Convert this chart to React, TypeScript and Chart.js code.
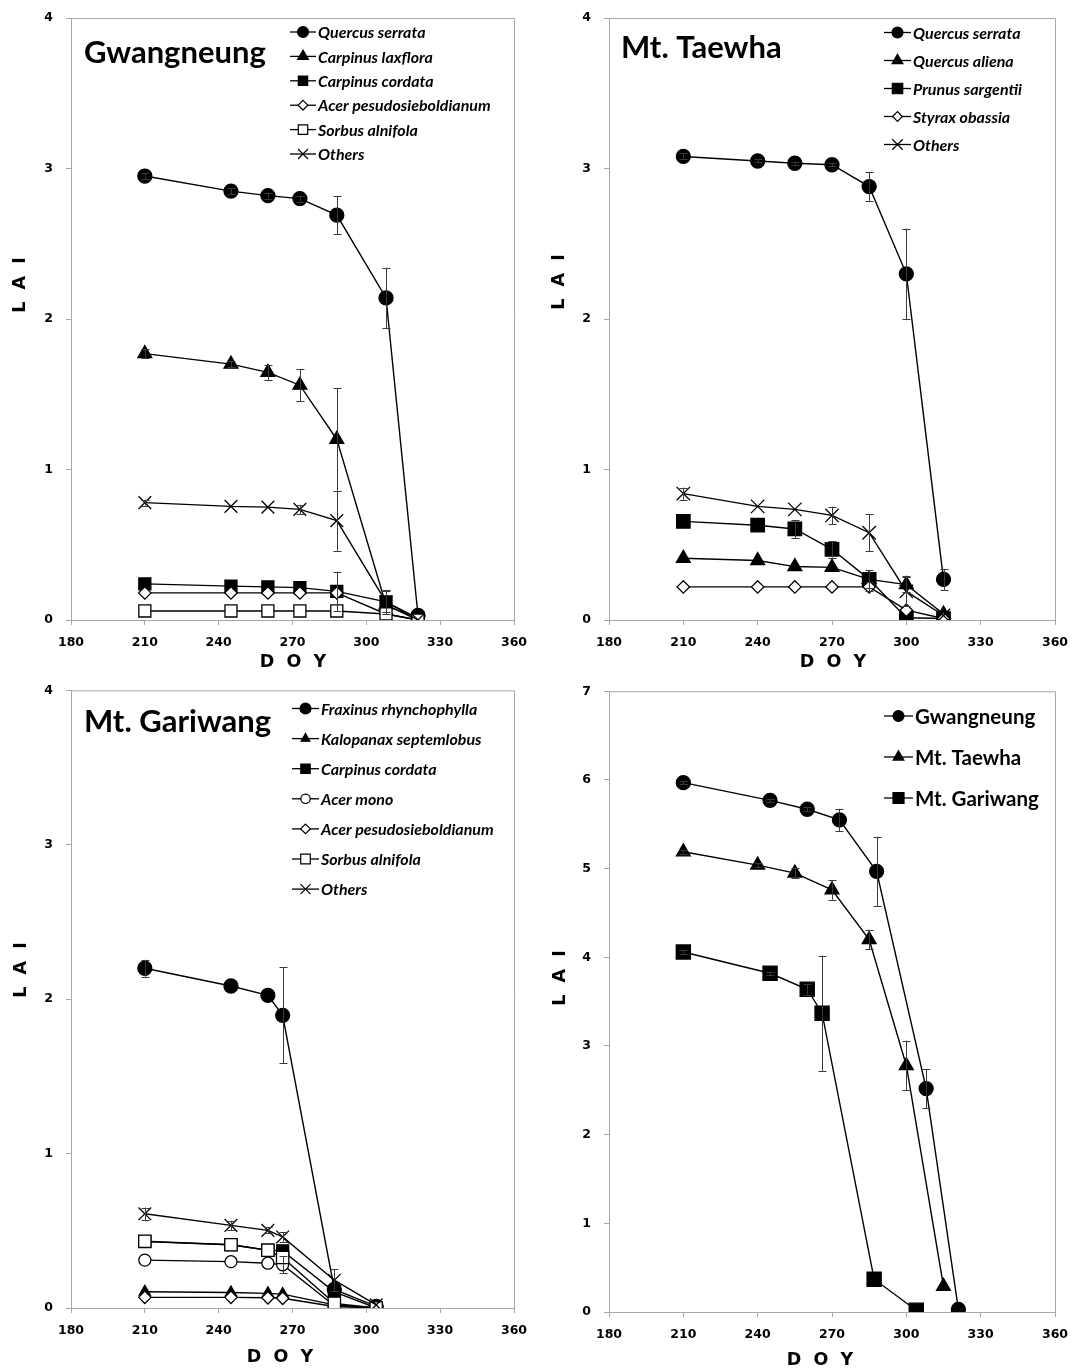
import React, { useEffect, useRef } from 'react';
import { Chart, registerables } from 'chart.js';

Chart.register(...registerables);

// ---------- data ----------
const X_TICKS = [180, 210, 240, 270, 300, 330, 360];

const DOY_GWANGNEUNG = [210, 245, 260, 273, 288, 308, 321];
const DOY_TAEWHA = [210, 240, 255, 270, 285, 300, 315];
const DOY_GARIWANG = [210, 245, 260, 266, 287, 304];

// Gwangneung species LAI and error
const G_QUERCUS_SERRATA = [2.95, 2.85, 2.82, 2.8, 2.69, 2.14, 0.03];
const G_QUERCUS_SERRATA_ERR = [0.02, 0.02, 0.02, 0.02, 0.125, 0.2, 0];
const G_CARPINUS_LAXFLORA = [1.77, 1.7, 1.645, 1.56, 1.2, 0.1, 0.0];
const G_CARPINUS_LAXFLORA_ERR = [0.03, 0.02, 0.05, 0.107, 0.34, 0, 0];
const G_CARPINUS_CORDATA = [0.24, 0.225, 0.22, 0.215, 0.19, 0.12, 0.01];
const G_CARPINUS_CORDATA_ERR = [0, 0, 0, 0, 0.13, 0.07, 0];
const G_ACER_PESUDO = [0.18, 0.18, 0.18, 0.18, 0.18, 0.04, 0.0];
const G_ACER_PESUDO_ERR = [0, 0, 0, 0, 0, 0, 0];
const G_SORBUS = [0.06, 0.06, 0.06, 0.06, 0.06, 0.04, 0.0];
const G_SORBUS_ERR = [0, 0, 0, 0, 0, 0, 0];
const G_OTHERS = [0.78, 0.755, 0.75, 0.735, 0.66, 0.12, 0.0];
const G_OTHERS_ERR = [0.02, 0, 0, 0.03, 0.2, 0.08, 0];

// Mt. Taewha species
const T_QUERCUS_SERRATA = [3.08, 3.05, 3.035, 3.025, 2.88, 2.3, 0.27];
const T_QUERCUS_SERRATA_ERR = [0.02, 0.01, 0.01, 0.01, 0.095, 0.3, 0.07];
const T_QUERCUS_ALIENA = [0.41, 0.395, 0.355, 0.35, 0.27, 0.235, 0.04];
const T_QUERCUS_ALIENA_ERR = [0, 0, 0, 0, 0, 0.05, 0];
const T_PRUNUS = [0.655, 0.63, 0.605, 0.47, 0.27, 0.015, 0.01];
const T_PRUNUS_ERR = [0, 0, 0.06, 0.055, 0.06, 0, 0];
const T_STYRAX = [0.22, 0.22, 0.22, 0.22, 0.22, 0.065, 0.01];
const T_STYRAX_ERR = [0, 0, 0, 0, 0.03, 0, 0];
const T_OTHERS = [0.84, 0.755, 0.735, 0.695, 0.58, 0.19, 0.03];
const T_OTHERS_ERR = [0.04, 0, 0, 0.058, 0.123, 0.1, 0];

// Mt. Gariwang species
const R_FRAXINUS = [2.2, 2.085, 2.025, 1.895, 0.12, 0.01];
const R_FRAXINUS_ERR = [0.055, 0, 0, 0.31, 0, 0];
const R_KALOPANAX = [0.105, 0.1, 0.095, 0.09, 0.02, 0.0];
const R_KALOPANAX_ERR = [0, 0, 0, 0, 0, 0];
const R_CARPINUS_CORDATA = [0.43, 0.41, 0.375, 0.37, 0.105, 0.0];
const R_CARPINUS_CORDATA_ERR = [0, 0, 0, 0, 0, 0];
const R_ACER_MONO = [0.31, 0.3, 0.29, 0.28, 0.015, 0.0];
const R_ACER_MONO_ERR = [0, 0, 0, 0.055, 0, 0];
const R_ACER_PESUDO = [0.069, 0.069, 0.066, 0.063, 0.01, 0.0];
const R_ACER_PESUDO_ERR = [0, 0, 0, 0, 0, 0];
const R_SORBUS = [0.432, 0.41, 0.374, 0.327, 0.03, 0.0];
const R_SORBUS_ERR = [0, 0, 0, 0, 0, 0];
const R_OTHERS = [0.61, 0.535, 0.503, 0.46, 0.18, 0.02];
const R_OTHERS_ERR = [0.04, 0.03, 0.02, 0.03, 0.07, 0];

// Site totals
const S_GWANGNEUNG = [5.97, 5.77, 5.67, 5.55, 4.97, 2.52, 0.03];
const S_GWANGNEUNG_ERR = [0.02, 0.02, 0.02, 0.125, 0.39, 0.22, 0];
const S_TAEWHA = [5.19, 5.04, 4.95, 4.76, 4.2, 2.78, 0.29];
const S_TAEWHA_ERR = [0.02, 0.02, 0.06, 0.11, 0.11, 0.28, 0];
const S_GARIWANG = [4.06, 3.82, 3.64, 3.37, 0.37, 0.02];
const S_GARIWANG_ERR = [0.02, 0.02, 0.06, 0.65, 0, 0];

// ---------- panel setup ----------
type Series = {
  label: string;
  x: number[];
  y: number[];
  err: number[];
  shape: string;
  filled: boolean;
  r: number;
};

type PanelDef = {
  key: string;
  box: { left: number; top: number; width: number; height: number };
  area: { left: number; top: number; right: number; bottom: number };
  yMax: number;
  title?: { text: string; x: number; y: number };
  legend: { x: number; y: number; step: number; line: number; font: string };
  yTitle: { x: number; y: number };
  xTitle: { x: number; y: number };
  series: Series[];
};

const S = (label: string, x: number[], y: number[], err: number[], shape: string, filled: boolean, r: number): Series => ({
  label, x, y, err, shape, filled, r,
});

const LEG_ITALIC = 'italic bold 16px Lato';

const PANELS: PanelDef[] = [
  {
    key: 'g',
    box: { left: 0, top: 0, width: 536, height: 680 },
    area: { left: 71, top: 18, right: 514, bottom: 620 },
    yMax: 4,
    title: { text: 'Gwangneung', x: 84, y: 63 },
    legend: { x: 290, y: 32, step: 24.4, line: 26, font: LEG_ITALIC },
    yTitle: { x: 20, y: 285 },
    xTitle: { x: 293, y: 662 },
    series: [
      S('Quercus serrata', DOY_GWANGNEUNG, G_QUERCUS_SERRATA, G_QUERCUS_SERRATA_ERR, 'circle', true, 7),
      S('Carpinus laxflora', DOY_GWANGNEUNG, G_CARPINUS_LAXFLORA, G_CARPINUS_LAXFLORA_ERR, 'triangle', true, 8),
      S('Carpinus cordata', DOY_GWANGNEUNG, G_CARPINUS_CORDATA, G_CARPINUS_CORDATA_ERR, 'rect', true, 8.5),
      S('Acer pesudosieboldianum', DOY_GWANGNEUNG, G_ACER_PESUDO, G_ACER_PESUDO_ERR, 'rectRot', false, 6.2),
      S('Sorbus alnifola', DOY_GWANGNEUNG, G_SORBUS, G_SORBUS_ERR, 'rect', false, 8.5),
      S('Others', DOY_GWANGNEUNG, G_OTHERS, G_OTHERS_ERR, 'crossRot', false, 9),
    ],
  },
  {
    key: 't',
    box: { left: 536, top: 0, width: 536, height: 680 },
    area: { left: 609, top: 18, right: 1055, bottom: 620 },
    yMax: 4,
    title: { text: 'Mt. Taewha', x: 621, y: 58 },
    legend: { x: 884, y: 32.5, step: 28, line: 27, font: LEG_ITALIC },
    yTitle: { x: 559, y: 282 },
    xTitle: { x: 833, y: 662 },
    series: [
      S('Quercus serrata', DOY_TAEWHA, T_QUERCUS_SERRATA, T_QUERCUS_SERRATA_ERR, 'circle', true, 7),
      S('Quercus aliena', DOY_TAEWHA, T_QUERCUS_ALIENA, T_QUERCUS_ALIENA_ERR, 'triangle', true, 8),
      S('Prunus sargentii', DOY_TAEWHA, T_PRUNUS, T_PRUNUS_ERR, 'rect', true, 9.5),
      S('Styrax obassia', DOY_TAEWHA, T_STYRAX, T_STYRAX_ERR, 'rectRot', false, 6.2),
      S('Others', DOY_TAEWHA, T_OTHERS, T_OTHERS_ERR, 'crossRot', false, 9.5),
    ],
  },
  {
    key: 'r',
    box: { left: 0, top: 680, width: 536, height: 690 },
    area: { left: 71, top: 687, right: 514, bottom: 1308 },
    yMax: 4,
    title: { text: 'Mt. Gariwang', x: 84, y: 732 },
    legend: { x: 292, y: 708.5, step: 30.1, line: 27, font: LEG_ITALIC },
    yTitle: { x: 21, y: 970 },
    xTitle: { x: 280, y: 1357 },
    series: [
      S('Fraxinus rhynchophylla', DOY_GARIWANG, R_FRAXINUS, R_FRAXINUS_ERR, 'circle', true, 7),
      S('Kalopanax septemlobus', DOY_GARIWANG, R_KALOPANAX, R_KALOPANAX_ERR, 'triangle', true, 6.5),
      S('Carpinus cordata', DOY_GARIWANG, R_CARPINUS_CORDATA, R_CARPINUS_CORDATA_ERR, 'rect', true, 8.5),
      S('Acer mono', DOY_GARIWANG, R_ACER_MONO, R_ACER_MONO_ERR, 'circle', false, 6),
      S('Acer pesudosieboldianum', DOY_GARIWANG, R_ACER_PESUDO, R_ACER_PESUDO_ERR, 'rectRot', false, 6.2),
      S('Sorbus alnifola', DOY_GARIWANG, R_SORBUS, R_SORBUS_ERR, 'rect', false, 8.7),
      S('Others', DOY_GARIWANG, R_OTHERS, R_OTHERS_ERR, 'crossRot', false, 9),
    ],
  },
  {
    key: 's',
    box: { left: 536, top: 680, width: 536, height: 690 },
    area: { left: 609, top: 687, right: 1055, bottom: 1312 },
    yMax: 7,
    legend: { x: 884, y: 716, step: 41, line: 29, font: 'bold 20.5px Lato' },
    yTitle: { x: 560, y: 978 },
    xTitle: { x: 820, y: 1360 },
    series: [
      S('Gwangneung', DOY_GWANGNEUNG, S_GWANGNEUNG, S_GWANGNEUNG_ERR, 'circle', true, 7),
      S('Mt. Taewha', DOY_TAEWHA, S_TAEWHA, S_TAEWHA_ERR, 'triangle', true, 8),
      S('Mt. Gariwang', DOY_GARIWANG, S_GARIWANG, S_GARIWANG_ERR, 'rect', true, 10),
    ],
  },
];

// ---------- drawing helpers ----------
function drawMarker(ctx: CanvasRenderingContext2D, shape: string, x: number, y: number, r: number, filled: boolean, lw: number) {
  ctx.save();
  ctx.fillStyle = filled ? '#000' : '#fff';
  ctx.strokeStyle = '#000';
  ctx.lineWidth = lw;
  ctx.beginPath();
  if (shape === 'circle') {
    ctx.arc(x, y, r, 0, Math.PI * 2);
    ctx.closePath();
  } else if (shape === 'triangle') {
    const a = (2 * Math.PI) / 3;
    ctx.moveTo(x, y - r);
    ctx.lineTo(x + Math.sin(a) * r, y - Math.cos(a) * r);
    ctx.lineTo(x + Math.sin(2 * a) * r, y - Math.cos(2 * a) * r);
    ctx.closePath();
  } else if (shape === 'rect') {
    const s = r * Math.SQRT1_2;
    ctx.rect(x - s, y - s, 2 * s, 2 * s);
  } else if (shape === 'rectRot') {
    ctx.moveTo(x - r, y);
    ctx.lineTo(x, y - r);
    ctx.lineTo(x + r, y);
    ctx.lineTo(x, y + r);
    ctx.closePath();
  } else if (shape === 'crossRot') {
    const o = r * Math.SQRT1_2;
    ctx.moveTo(x - o, y - o);
    ctx.lineTo(x + o, y + o);
    ctx.moveTo(x + o, y - o);
    ctx.lineTo(x - o, y + o);
  }
  if (shape !== 'crossRot') ctx.fill();
  ctx.stroke();
  ctx.restore();
}

const decoPlugin = {
  id: 'deco',
  beforeDatasetsDraw(chart: any) {
    const { ctx, chartArea: a } = chart;
    ctx.save();
    ctx.strokeStyle = '#a6a6a6';
    ctx.lineWidth = 1;
    ctx.beginPath();
    ctx.moveTo(a.left, a.top + 0.5);
    ctx.lineTo(a.right + 0.5, a.top + 0.5);
    ctx.lineTo(a.right + 0.5, a.bottom);
    ctx.stroke();
    ctx.restore();
  },
  afterDatasetsDraw(chart: any) {
    const { ctx } = chart;
    const xs = chart.scales.x;
    const ys = chart.scales.y;
    ctx.save();
    ctx.strokeStyle = '#3a3a3a';
    ctx.lineWidth = 1;
    chart.data.datasets.forEach((ds: any) => {
      const errs: number[] = ds.errors || [];
      ds.data.forEach((pt: any, i: number) => {
        const e = errs[i];
        if (!e) return;
        const px = Math.round(xs.getPixelForValue(pt.x)) + 0.5;
        const y1 = ys.getPixelForValue(pt.y + e);
        const y2 = ys.getPixelForValue(Math.max(0, pt.y - e));
        ctx.beginPath();
        ctx.moveTo(px, y1);
        ctx.lineTo(px, y2);
        ctx.moveTo(px - 4, Math.round(y1) + 0.5);
        ctx.lineTo(px + 4, Math.round(y1) + 0.5);
        ctx.moveTo(px - 4, Math.round(y2) + 0.5);
        ctx.lineTo(px + 4, Math.round(y2) + 0.5);
        ctx.stroke();
      });
    });
    ctx.restore();
  },
  afterDraw(chart: any, _args: any, opts: any) {
    const p: PanelDef = opts.panel;
    if (!p) return;
    const { ctx } = chart;
    const ox = p.box.left;
    const oy = p.box.top;
    ctx.save();
    ctx.fillStyle = '#000';
    // panel title
    if (p.title) {
      ctx.font = 'bold 31px Lato';
      ctx.textAlign = 'left';
      ctx.textBaseline = 'alphabetic';
      ctx.fillText(p.title.text, p.title.x - ox, p.title.y - oy);
    }
    // legend
    const L = p.legend;
    ctx.font = L.font;
    ctx.textAlign = 'left';
    ctx.textBaseline = 'middle';
    p.series.forEach((s, i) => {
      const yy = L.y - oy + i * L.step;
      const x0 = L.x - ox;
      ctx.strokeStyle = '#000';
      ctx.lineWidth = 1.3;
      ctx.beginPath();
      ctx.moveTo(x0, yy);
      ctx.lineTo(x0 + L.line, yy);
      ctx.stroke();
      drawMarker(ctx, s.shape, x0 + L.line / 2, yy, s.r * 0.78, s.filled, 1.2);
      ctx.fillStyle = '#000';
      ctx.fillText(s.label, x0 + L.line + 2, yy + 1);
    });
    // axis titles
    ctx.font = 'bold 17.5px "DejaVu Sans"';
    ctx.textAlign = 'center';
    ctx.textBaseline = 'middle';
    ctx.fillText('D  O  Y', p.xTitle.x - ox, p.xTitle.y - oy);
    ctx.save();
    ctx.translate(p.yTitle.x - ox, p.yTitle.y - oy);
    ctx.rotate(-Math.PI / 2);
    ctx.fillText('L  A  I', 0, 0);
    ctx.restore();
    ctx.restore();
  },
};

function buildConfig(p: PanelDef): any {
  const n = p.series.length;
  const datasets = p.series.map((s, i) => ({
    label: s.label,
    data: s.x.map((d, j) => ({ x: d, y: s.y[j] })),
    errors: s.err,
    borderColor: '#000',
    borderWidth: 1.4,
    tension: 0,
    fill: false,
    pointStyle: s.shape,
    pointRadius: s.r,
    pointHoverRadius: s.r,
    pointBackgroundColor: s.filled ? '#000' : '#fff',
    pointBorderColor: '#000',
    pointBorderWidth: 1.3,
    order: n - i,
  }));
  const tickFont = { family: '"DejaVu Sans"', weight: 'bold', size: 12.5 };
  const yTicks: number[] = [];
  for (let v = 0; v <= p.yMax; v++) yTicks.push(v);
  return {
    type: 'line',
    data: { datasets },
    plugins: [decoPlugin],
    options: {
      animation: false,
      responsive: false,
      devicePixelRatio: 1,
      events: [],
      layout: {
        padding: {
          left: 0,
          top: p.area.top - p.box.top,
          right: p.box.left + p.box.width - p.area.right,
          bottom: 0,
        },
      },
      plugins: {
        legend: { display: false },
        tooltip: { enabled: false },
        deco: { panel: p },
      },
      scales: {
        x: {
          type: 'linear',
          min: 180,
          max: 360,
          afterBuildTicks: (s: any) => {
            s.ticks = X_TICKS.map((v) => ({ value: v }));
          },
          ticks: { font: tickFont, color: '#000', padding: 10, maxRotation: 0, autoSkip: false },
          grid: { drawOnChartArea: false, drawTicks: true, tickLength: 5, color: '#a6a6a6' },
          border: { display: true, color: '#a6a6a6', width: 1 },
          afterFit: (s: any) => {
            s.height = p.box.top + p.box.height - p.area.bottom;
            s.paddingLeft = 0;
            s.paddingRight = 0;
          },
        },
        y: {
          type: 'linear',
          min: 0,
          max: p.yMax,
          afterBuildTicks: (s: any) => {
            s.ticks = yTicks.map((v) => ({ value: v }));
          },
          ticks: { font: tickFont, color: '#000', padding: 13 },
          grid: { drawOnChartArea: false, drawTicks: true, tickLength: 5, color: '#a6a6a6' },
          border: { display: true, color: '#a6a6a6', width: 1 },
          afterFit: (s: any) => {
            s.width = p.area.left - p.box.left;
            s.paddingTop = 0;
            s.paddingBottom = 0;
          },
        },
      },
    },
  };
}

function Panel({ p }: { p: PanelDef }) {
  const ref = useRef<HTMLCanvasElement>(null);
  useEffect(() => {
    if (!ref.current) return;
    const chart = new Chart(ref.current, buildConfig(p));
    return () => chart.destroy();
  }, [p]);
  return (
    <canvas
      ref={ref}
      width={p.box.width}
      height={p.box.height}
      style={{ position: 'absolute', left: p.box.left, top: p.box.top, width: p.box.width, height: p.box.height }}
    />
  );
}

export default function App() {
  return (
    <div style={{ position: 'absolute', left: 0, top: 0, width: 1072, height: 1370, background: '#fff' }}>
      {PANELS.map((p) => (
        <Panel key={p.key} p={p} />
      ))}
    </div>
  );
}
